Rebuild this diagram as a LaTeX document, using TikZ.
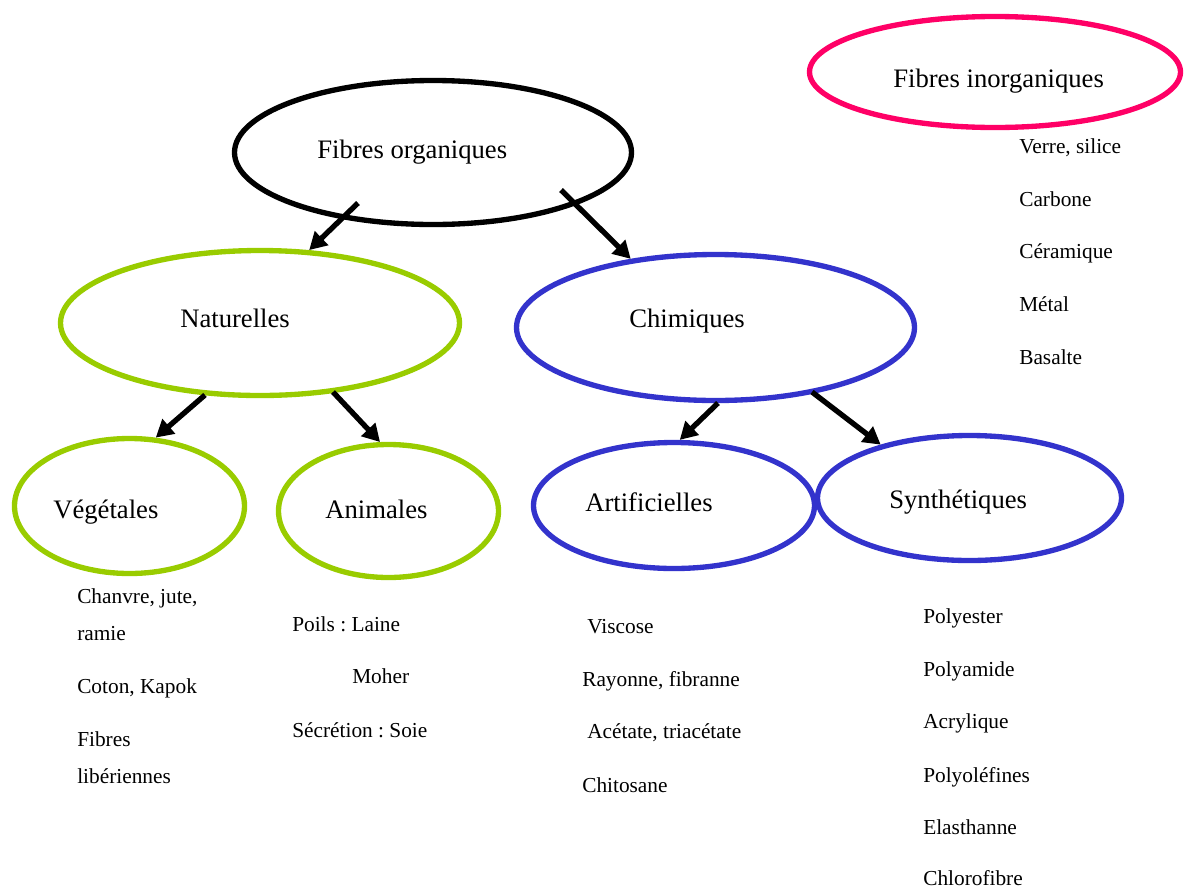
\documentclass[tikz,border=0pt]{standalone}
\usepackage{fontspec}
\setmainfont{Liberation Serif}
\usetikzlibrary{shapes.geometric,arrows.meta}
\definecolor{grn}{HTML}{99CC00}
\definecolor{blu}{HTML}{3333CC}
\definecolor{pnk}{HTML}{FF0066}
\frenchspacing
\tikzset{
  ell/.style={ellipse, draw, line width=4pt, inner sep=0pt, outer sep=2pt},
  big/.style={anchor=base west, inner sep=0pt, font=\fontsize{20pt}{24pt}\selectfont},
  sml/.style={anchor=base west, inner sep=0pt, font=\fontsize{16pt}{19pt}\selectfont},
  arr/.style={line width=4pt, -{Triangle[length=13pt,width=14pt]}}
}
\begin{document}
\begin{tikzpicture}[x=0.75pt,y=-0.75pt]
\useasboundingbox (0,0) rectangle (1184,889);
% ellipses
\node[ell, draw=black, minimum width=297.75pt, minimum height=108pt] (org) at (433,152.5) {};
\node[ell, draw=pnk, minimum width=278.25pt, minimum height=83.25pt] (inorg) at (995,72) {};
\node[ell, draw=grn, minimum width=299.25pt, minimum height=108.75pt] (nat) at (260,323) {};
\node[ell, draw=blu, minimum width=298.5pt, minimum height=109.5pt] (chim) at (715.5,327.5) {};
\node[ell, draw=grn, minimum width=172.5pt, minimum height=101.25pt] (veg) at (129.5,506) {};
\node[ell, draw=grn, minimum width=165pt, minimum height=99.75pt] (ani) at (388.5,511) {};
\node[ell, draw=blu, minimum width=210.75pt, minimum height=94.5pt] (art) at (674,505.5) {};
\node[ell, draw=blu, minimum width=228pt, minimum height=93.75pt] (syn) at (969.5,498) {};
% titles
\node[big] (torg) at (317,158) {Fibres organiques};
\node[big] (tinorg) at (893,87) {Fibres inorganiques};
\node[big] (tnat) at (180,327) {Naturelles};
\node[big] (tchim) at (629,327) {Chimiques};
\node[big] (tveg) at (53,518) {Végétales};
\node[big] (tani) at (325,518) {Animales};
\node[big] (tart) at (585,511) {Artificielles};
\node[big] (tsyn) at (889,508) {Synthétiques};
% arrows
\coordinate (ta) at (358,203);
\coordinate (tb) at (561,190);
\coordinate (tc) at (205,395);
\coordinate (td) at (333,392);
\coordinate (te) at (718,403);
\coordinate (tf) at (812,392);
\draw[arr] (ta) -- (nat.56);
\draw[arr] (tb) -- (chim.141.2);
\draw[arr] (tc) -- (veg.69);
\draw[arr] (td) -- (ani.97);
\draw[arr] (te) -- (art.85);
\draw[arr] (tf) -- (syn.149.4);
% inorganic list
\node[sml] (i1) at (1019,153) {Verre, silice};
\node[sml] (i2) at (1019,206) {Carbone};
\node[sml] (i3) at (1019,258) {Céramique};
\node[sml] (i4) at (1019,311) {Métal};
\node[sml] (i5) at (1019,364) {Basalte};
% vegetal list
\node[sml] (v1) at (77,603) {Chanvre, jute,};
\node[sml] (v2) at (77,640) {ramie};
\node[sml] (v3) at (77,693) {Coton, Kapok};
\node[sml] (v4) at (77,746) {Fibres};
\node[sml] (v5) at (77,783) {libériennes};
% animal list
\node[sml] (a1) at (292,631) {Poils : Laine};
\node[sml] (a2) at (352,683) {Moher};
\node[sml] (a3) at (292,737) {Sécrétion : Soie};
% artificial list
\node[sml] (r1) at (587,633) {Viscose};
\node[sml] (r2) at (582,686) {Rayonne, fibranne};
\node[sml] (r3) at (587,738) {Acétate, triacétate};
\node[sml] (r4) at (582,792) {Chitosane};
% synthetic list
\node[sml] (s1) at (923,623) {Polyester};
\node[sml] (s2) at (923,676) {Polyamide};
\node[sml] (s3) at (923,728) {Acrylique};
\node[sml] (s4) at (923,782) {Polyoléfines};
\node[sml] (s5) at (923,834) {Elasthanne};
\node[sml] (s6) at (923,885) {Chlorofibre};
\end{tikzpicture}
\end{document}
